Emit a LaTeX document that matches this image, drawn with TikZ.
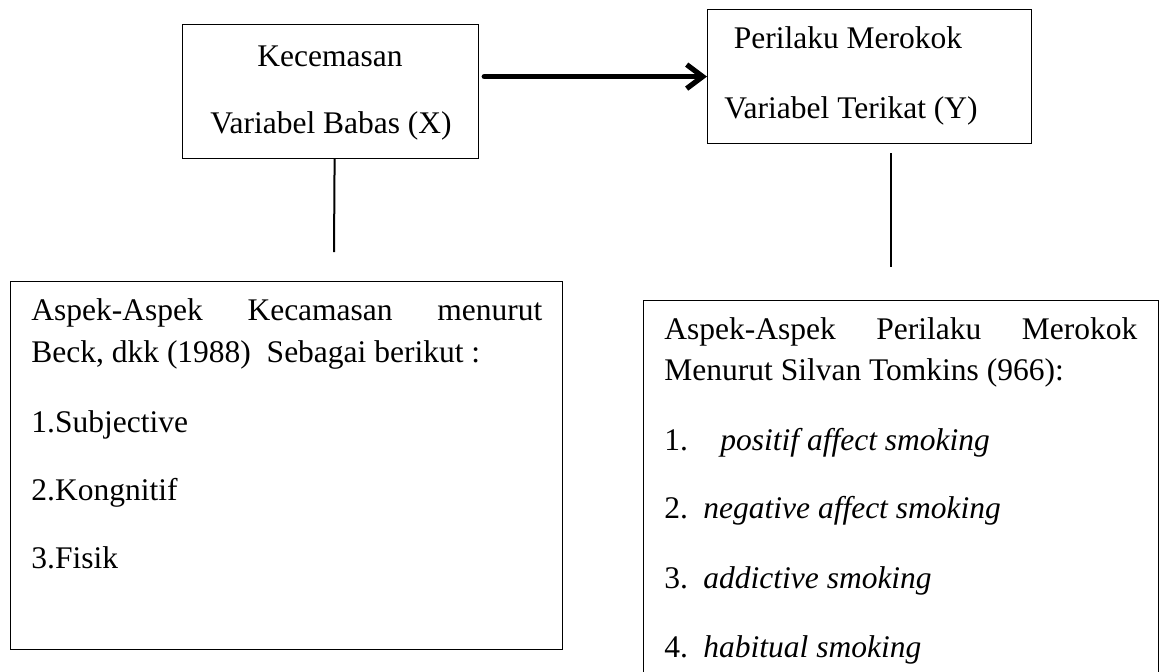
\documentclass[tikz,border=0pt]{standalone}
\usepackage{fontspec}
\setmainfont{Liberation Serif}
\usetikzlibrary{arrows.meta}
\tikzstyle{varbox} = [rectangle, draw=black, line width=0.6pt, anchor=north west, inner sep=0pt]
\tikzstyle{txt} = [anchor=base west, inner sep=0pt]
\tikzstyle{ctxt} = [anchor=base, inner sep=0pt]
\tikzstyle{arrow} = [line width=2.6pt, line cap=round, -{Straight Barb[length=8pt,width=12pt]}]
\tikzstyle{link} = [line width=1pt]

\begin{document}
\begin{tikzpicture}[x=0.5pt, y=-0.5pt, font=\fontsize{15.75}{19}\selectfont]
\useasboundingbox (0,0) rectangle (1163,671);

% Variable boxes
\node (X) [varbox, minimum width=148pt, minimum height=67pt] at (182,24) {};
\node (Y) [varbox, minimum width=162pt, minimum height=67pt] at (707,9) {};
\node (Xname) [ctxt] at (330,66) {Kecemasan};
\node (Xvar) [ctxt] at (331,133) {Variabel Babas (X)};
\node (Yname) [ctxt] at (848,48) {Perilaku Merokok};
\node (Yvar) [ctxt] at (851,118) {Variabel Terikat (Y)};

% Aspect boxes
\node (aspX) [varbox, minimum width=276pt, minimum height=184pt] at (10,281) {};
\node (aspY) [varbox, minimum width=257.5pt, minimum height=190pt] at (643,300) {};

% Aspects of X
\node (x0) [txt] at (31,320) {\makebox[255.5pt][s]{Aspek-Aspek\hfill Kecamasan\hfill menurut}};
\node (x00) [txt] at (31,362) {Beck, dkk (1988)\ \ Sebagai berikut :};
\node (x1) [txt] at (31,432) {1.Subjective};
\node (x2) [txt] at (31,500) {2.Kongnitif};
\node (x3) [txt] at (31,568) {3.Fisik};

% Aspects of Y
\node (y0) [txt] at (664,339) {\makebox[236.5pt][s]{Aspek-Aspek\hfill Perilaku\hfill Merokok}};
\node (y00) [txt] at (664,380) {Menurut Silvan Tomkins (966):};
\node (y1) [txt] at (664,450) {\makebox[28pt][l]{1.}\textit{positif affect smoking}};
\node (y2) [txt] at (664,518) {\makebox[19.5pt][l]{2.}\textit{negative affect smoking}};
\node (y3) [txt] at (664,588) {\makebox[19.5pt][l]{3.}\textit{addictive smoking}};
\node (y4) [txt] at (664,657) {\makebox[19.5pt][l]{4.}\textit{habitual smoking}};

% Connectors
\coordinate (xe) at (334,252);
\coordinate (ys) at (891,153);
\coordinate (ye) at (891,267);
\draw [arrow] ([xshift=2.5pt]X.east |- Y.west) -- (Y.west);
\draw [link] ([xshift=2pt]X.south) -- (xe);
\draw [link] (ys) -- (ye);

\end{tikzpicture}
\end{document}
